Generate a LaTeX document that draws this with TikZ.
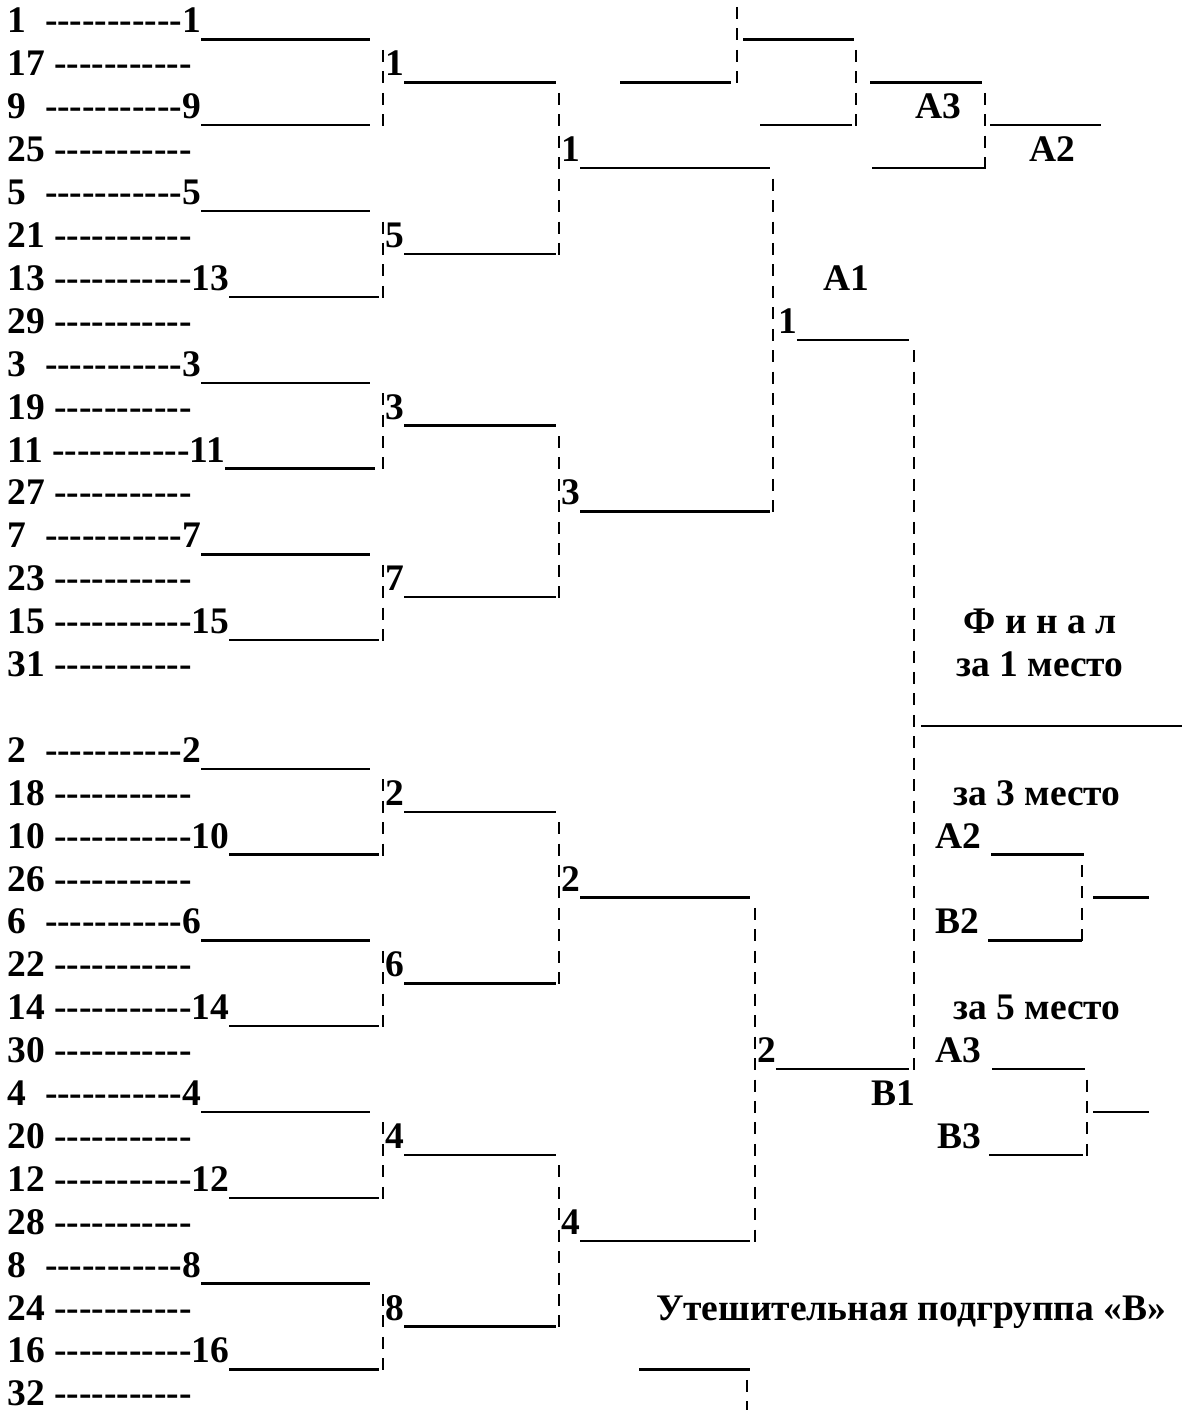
\documentclass[tikz,border=0pt]{standalone}
\usepackage{fontspec}
\setmainfont{Liberation Serif}
\newcommand\hyps{-\kern0pt-\kern0pt-\kern0pt-\kern0pt-\kern0pt-\kern0pt-\kern0pt-\kern0pt-\kern0pt-\kern0pt-}
\newcommand\by[1]{(33+42.9*(#1))}
\newcommand\uy[1]{(39.5+42.9*(#1))}
% winner row of first column: row, label, underline length
\newcommand\win[3]{%
  \node[lbl] (w#2) at (7.5,{\by{#1}}) {#2\ifnum#2<10\ \ \else\ \fi\hyps#2};
  \draw[ul] (w#2.base east) ++(0,6.5) -- ++(#3,0);}
% loser row of first column: row, label
\newcommand\los[2]{\node[lbl] (l#2) at (7.5,{\by{#1}}) {#2 \hyps};}
% advancing label with underline: name, x, row, text, end x
\newcommand\adv[5]{%
  \node[lbl] (#1) at (#2,{\by{#3}}) {#4};
  \coordinate (#1e) at (#5,{\uy{#3}});
  \draw[ul] (#1.base east) ++(0,6.5) -- (#1e);}
% label followed by a space and an underline: name, x, row, text, start x, end x
\newcommand\advs[6]{%
  \node[lbl] (#1) at (#2,{\by{#3}}) {#4};
  \coordinate (#1s) at (#5,{\uy{#3}});
  \coordinate (#1e) at (#6,{\uy{#3}});
  \draw[ul] (#1s) -- (#1e);}
% dashed vertical: name, x, first row, last row
\newcommand\vd[4]{%
  \coordinate (#1t) at (#2,{7+42.9*(#3)});
  \coordinate (#1b) at (#2,{40.45+42.9*(#4)});
  \draw[br] (#1t) -- (#1b);}
% plain line: name, x1, x2, row
\newcommand\hl[4]{%
  \coordinate (#1a) at (#2,{\uy{#4}});
  \coordinate (#1b) at (#3,{\uy{#4}});
  \draw[ul] (#1a) -- (#1b);}
\begin{document}
\begin{tikzpicture}[x=1pt,y=-1pt,
  lbl/.style={inner sep=0pt, outer sep=0pt, anchor=base west,
    font=\bfseries\fontsize{37.5}{45}\selectfont},
  lblc/.style={lbl, anchor=base},
  ul/.style={line width=2.4pt},
  br/.style={line width=2.2pt, dash pattern=on 12pt off 9.45pt}]
\useasboundingbox (0,0) rectangle (1181,1410);
% ---------- first column, upper half
\win{0}{1}{168.75}  \los{1}{17}
\win{2}{9}{168.75}  \los{3}{25}
\win{4}{5}{168.75}  \los{5}{21}
\win{6}{13}{150}    \los{7}{29}
\win{8}{3}{168.75}  \los{9}{19}
\win{10}{11}{150}   \los{11}{27}
\win{12}{7}{168.75} \los{13}{23}
\win{14}{15}{150}   \los{15}{31}
% ---------- first column, lower half
\win{17}{2}{168.75} \los{18}{18}
\win{19}{10}{150}   \los{20}{26}
\win{21}{6}{168.75} \los{22}{22}
\win{23}{14}{150}   \los{24}{30}
\win{25}{4}{168.75} \los{26}{20}
\win{27}{12}{150}   \los{28}{28}
\win{29}{8}{168.75} \los{30}{24}
\win{31}{16}{150}   \los{32}{32}
% ---------- second column
\vd{c2a}{383}{1}{2}   \adv{s1}{385.5}{1}{1}{556}
\vd{c2b}{383}{5}{6}   \adv{s5}{385.5}{5}{5}{556}
\vd{c2c}{383}{9}{10}  \adv{s3}{385.5}{9}{3}{556}
\vd{c2d}{383}{13}{14} \adv{s7}{385.5}{13}{7}{556}
\vd{c2e}{383}{18}{19} \adv{s2}{385.5}{18}{2}{556}
\vd{c2f}{383}{22}{23} \adv{s6}{385.5}{22}{6}{556}
\vd{c2g}{383}{26}{27} \adv{s4}{385.5}{26}{4}{556}
\vd{c2h}{383}{30}{31} \adv{s8}{385.5}{30}{8}{556}
% ---------- third column
\vd{c3a}{559}{2}{5}   \adv{t1}{561.5}{3}{1}{770}
\vd{c3b}{559}{10}{13} \adv{t3}{561.5}{11}{3}{770}
\vd{c3c}{559}{19}{22} \adv{t2}{561.5}{20}{2}{750}
\vd{c3d}{559}{27}{30} \adv{t4}{561.5}{28}{4}{750}
% ---------- fourth column
\vd{c4a}{773}{4}{11}  \adv{f1}{778}{7}{1}{909}
\vd{c4b}{755}{21}{28} \adv{f2}{757}{24}{2}{909}
\node[lbl] (A1) at (823,{\by{6}}) {А1};
\node[lbl] (B1) at (871,{\by{25}}) {В1};
% ---------- final
\vd{c5}{914}{8}{24}
\hl{fin}{921}{1185}{16}
\node[lblc] (fin1) at (1040,{\by{14}}) {Ф и н а л};
\node[lblc] (fin2) at (1040,{\by{15}}) {за 1 место};
% ---------- third place
\node[lblc] (p3) at (1037,{\by{18}}) {за 3 место};
\advs{pA2}{935}{19}{А2}{991}{1084}
\vd{c3p}{1082}{20}{21}
\hl{p3w}{1093}{1149}{20}
\advs{pB2}{935}{21}{В2}{988}{1082}
% ---------- fifth place
\node[lblc] (p5) at (1037,{\by{23}}) {за 5 место};
\advs{pA3}{935}{24}{А3}{992}{1085}
\vd{c5p}{1087}{25}{26}
\hl{p5w}{1093}{1149}{25}
\advs{pB3}{937}{26}{В3}{989}{1083}
% ---------- consolation subgroup
\node[lbl] (cons) at (656,{\by{30}}) {Утешительная подгруппа «В»};
\hl{cl}{639}{750}{31}
\vd{cv}{747}{32}{32}
% ---------- top right fragment
\vd{tr1}{737}{0}{1}
\hl{tr2}{743}{854}{0}
\hl{tr3}{620}{731}{1}
\vd{tr4}{856}{1}{2}
\hl{tr5}{870}{982}{1}
\hl{tr6}{760}{852}{2}
\node[lbl] (trA3) at (915,{\by{2}}) {А3};
\vd{tr7}{985}{2}{3}
\hl{tr8}{990}{1101}{2}
\hl{tr9}{872}{984}{3}
\node[lbl] (trA2) at (1029,{\by{3}}) {А2};
\end{tikzpicture}
\end{document}
